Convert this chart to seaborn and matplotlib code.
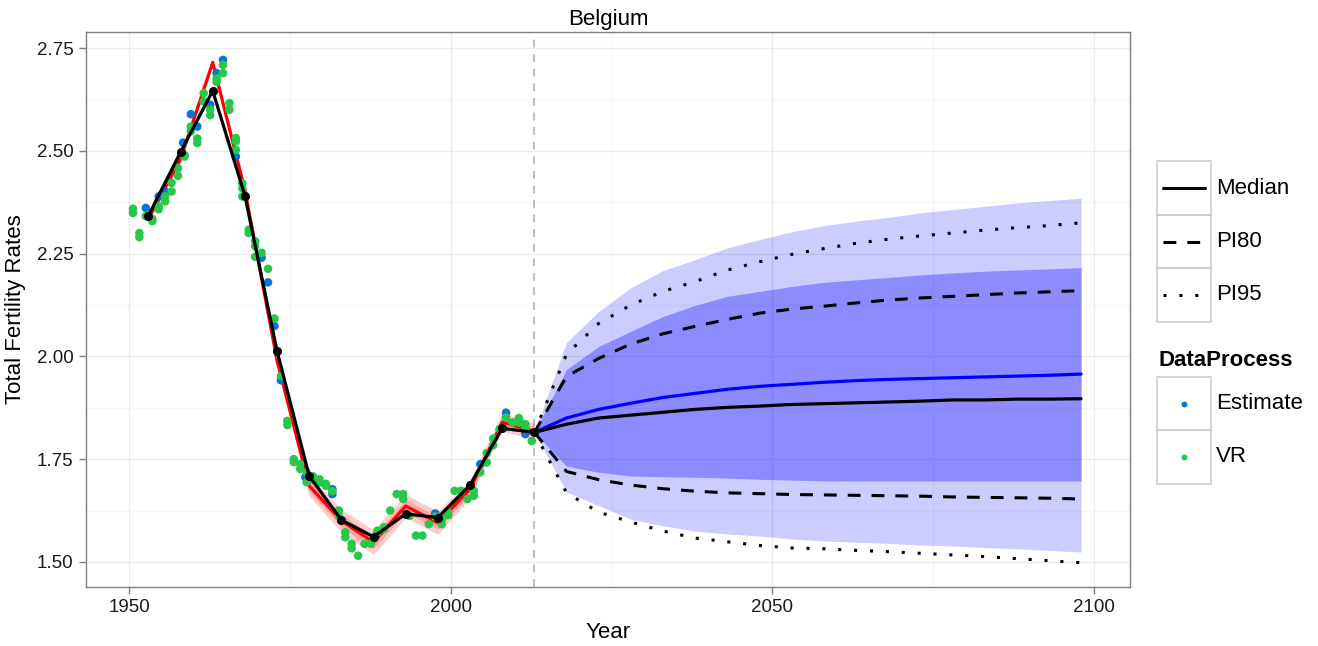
import numpy as np
import pandas as pd
import matplotlib
matplotlib.use("Agg")
import matplotlib.pyplot as plt
import seaborn as sns
from matplotlib.patches import Rectangle
from matplotlib.lines import Line2D

# ---------------- data ----------------
vr_years = [1950.6, 1950.6, 1951.6, 1951.6, 1952.6, 1953.6, 1953.6, 1954.6, 1954.6,
            1955.6, 1955.6, 1956.6, 1956.6, 1957.6, 1957.6, 1958.6, 1958.6, 1959.6, 1959.6,
            1960.6, 1960.6, 1961.6, 1961.6, 1962.6, 1962.6, 1963.6, 1963.6, 1964.6, 1964.6,
            1965.6, 1965.6, 1966.6, 1966.6, 1966.6, 1967.6, 1967.6, 1967.6, 1968.6, 1968.6,
            1969.6, 1969.6, 1969.6, 1970.6, 1971.6, 1972.6, 1973.6, 1974.6, 1974.6,
            1975.6, 1975.6, 1976.6, 1976.6, 1977.6, 1977.6, 1978.6, 1978.6, 1979.6, 1979.6,
            1980.6, 1980.6, 1981.6, 1982.6, 1982.6, 1983.6, 1983.6, 1984.6, 1984.6, 1985.6,
            1986.6, 1987.6, 1988.6, 1988.6, 1989.6, 1989.6, 1990.6, 1991.6, 1992.6, 1992.6,
            1993.6, 1994.6, 1995.6, 1996.6, 1997.6, 1998.6, 1998.6, 1999.6, 1999.6, 2000.6,
            2001.6, 2002.6, 2003.6, 2003.6, 2004.6, 2005.6, 2005.6, 2006.6, 2006.6, 2007.6,
            2008.6, 2009.6, 2010.6, 2010.6, 2011.6, 2011.6, 2012.6]
vr_values = [2.359, 2.349, 2.300, 2.290, 2.341, 2.329, 2.334, 2.365, 2.358,
             2.389, 2.377, 2.422, 2.401, 2.458, 2.439, 2.490, 2.486, 2.559, 2.547,
             2.530, 2.519, 2.640, 2.620, 2.600, 2.587, 2.676, 2.668, 2.709, 2.689,
             2.616, 2.600, 2.531, 2.523, 2.502, 2.421, 2.409, 2.389, 2.308, 2.300,
             2.280, 2.268, 2.242, 2.252, 2.213, 2.092, 1.952, 1.843, 1.833,
             1.750, 1.743, 1.738, 1.726, 1.718, 1.694, 1.708, 1.700, 1.701, 1.693,
             1.690, 1.685, 1.672, 1.625, 1.612, 1.572, 1.560, 1.544, 1.533, 1.515,
             1.544, 1.544, 1.572, 1.576, 1.584, 1.580, 1.625, 1.665, 1.665, 1.653,
             1.612, 1.564, 1.564, 1.592, 1.610, 1.592, 1.604, 1.621, 1.614, 1.673,
             1.673, 1.653, 1.673, 1.661, 1.718, 1.742, 1.765, 1.784, 1.800, 1.823,
             1.851, 1.839, 1.839, 1.850, 1.835, 1.825, 1.794]

est_years = [1952.6, 1954.6, 1955.6, 1958.4, 1959.6, 1960.6, 1962.6, 1963.6, 1964.6,
             1966.6, 1970.6, 1971.6, 1972.6, 1973.6, 1977.4, 1981.6, 1981.6, 1997.6,
             2004.6, 2008.6, 2010.6, 2011.6]
est_values = [2.361, 2.389, 2.401, 2.520, 2.589, 2.559, 2.612, 2.689, 2.721,
              2.486, 2.240, 2.180, 2.074, 1.942, 1.706, 1.677, 1.665, 1.618,
              1.738, 1.863, 1.846, 1.811]

# 5-year periods (observed part)
obs_years = [1953, 1958, 1963, 1968, 1973, 1978, 1983, 1988, 1993, 1998, 2003, 2008, 2013]
obs_median = [2.342, 2.497, 2.646, 2.391, 2.013, 1.709, 1.602, 1.561, 1.617, 1.608, 1.687, 1.825, 1.815]
est_tfr = [2.335, 2.480, 2.715, 2.405, 1.990, 1.685, 1.600, 1.548, 1.636, 1.595, 1.677, 1.840, 1.818]
est_half80 = [0.004, 0.004, 0.005, 0.005, 0.008, 0.013, 0.015, 0.016, 0.015, 0.015, 0.012, 0.012, 0.011]
est_half95 = [0.008, 0.008, 0.010, 0.010, 0.015, 0.025, 0.028, 0.030, 0.028, 0.028, 0.022, 0.022, 0.020]

# projections
proj_years = [2013, 2018, 2023, 2028, 2033, 2038, 2043, 2048, 2053, 2058, 2063, 2068,
              2073, 2078, 2083, 2088, 2093, 2098]
proj_median = [1.815, 1.835, 1.850, 1.857, 1.864, 1.871, 1.876, 1.879, 1.883, 1.885, 1.887,
               1.889, 1.891, 1.894, 1.894, 1.896, 1.896, 1.897]
proj_pi80_up = [1.815, 1.951, 1.995, 2.030, 2.055, 2.073, 2.090, 2.105, 2.115, 2.122, 2.130,
                2.137, 2.142, 2.146, 2.150, 2.154, 2.157, 2.160]
proj_pi80_lo = [1.815, 1.720, 1.700, 1.687, 1.678, 1.672, 1.668, 1.666, 1.664, 1.663, 1.662,
                1.661, 1.660, 1.658, 1.657, 1.656, 1.655, 1.653]
proj_pi95_up = [1.815, 2.005, 2.080, 2.125, 2.158, 2.182, 2.210, 2.230, 2.248, 2.262, 2.275,
                2.285, 2.293, 2.300, 2.307, 2.313, 2.318, 2.325]
proj_pi95_lo = [1.815, 1.668, 1.621, 1.597, 1.575, 1.558, 1.549, 1.540, 1.534, 1.532, 1.528,
                1.525, 1.521, 1.517, 1.513, 1.508, 1.503, 1.498]

alt_median = [1.815, 1.850, 1.871, 1.886, 1.900, 1.910, 1.920, 1.927, 1.932, 1.937, 1.941,
              1.944, 1.946, 1.948, 1.950, 1.952, 1.954, 1.957]
alt_80_up = [1.815, 1.968, 2.024, 2.061, 2.097, 2.124, 2.146, 2.158, 2.170, 2.180, 2.186,
             2.192, 2.198, 2.203, 2.207, 2.210, 2.213, 2.216]
alt_80_lo = [1.815, 1.733, 1.718, 1.709, 1.707, 1.706, 1.704, 1.701, 1.699, 1.697, 1.697,
             1.697, 1.697, 1.697, 1.697, 1.697, 1.697, 1.697]
alt_95_up = [1.815, 2.034, 2.109, 2.167, 2.209, 2.235, 2.264, 2.284, 2.303, 2.318, 2.329,
             2.338, 2.349, 2.357, 2.365, 2.373, 2.379, 2.385]
alt_95_lo = [1.815, 1.670, 1.637, 1.604, 1.588, 1.575, 1.568, 1.563, 1.556, 1.551, 1.548,
             1.545, 1.541, 1.539, 1.535, 1.532, 1.528, 1.524]

present_year = 2013
x_ticks = [1950, 2000, 2050, 2100]
y_ticks = [1.50, 1.75, 2.00, 2.25, 2.50, 2.75]
x_minor = [1975, 2025, 2075]
y_minor = [1.625, 1.875, 2.125, 2.375, 2.625]

# ---------------- style ----------------
sns.set_theme(style="white")
plt.rcParams['font.family'] = ['Liberation Sans', 'DejaVu Sans']

W, H = 1318, 646
fig = plt.figure(figsize=(W / 100, H / 100), dpi=100)
L, R, T, B = 86, 1130, 32, 587
ax = fig.add_axes([L / W, 1 - B / H, (R - L) / W, (B - T) / H])
ax.set_facecolor('white')

ax.set_xlim(1943.3, 2105.6)
ax.set_ylim(1.439, 2.789)

for v in x_minor:
    ax.axvline(v, color='#F7F7F7', lw=0.9, zorder=0)
for v in y_minor:
    ax.axhline(v, color='#F7F7F7', lw=0.9, zorder=0)
for v in x_ticks:
    ax.axvline(v, color='#EBEBEB', lw=1.0, zorder=0)
for v in y_ticks:
    ax.axhline(v, color='#EBEBEB', lw=1.0, zorder=0)

df_est = pd.DataFrame({'year': obs_years, 'tfr': est_tfr,
                       'lo80': np.array(est_tfr) - np.array(est_half80),
                       'up80': np.array(est_tfr) + np.array(est_half80),
                       'lo95': np.array(est_tfr) - np.array(est_half95),
                       'up95': np.array(est_tfr) + np.array(est_half95)})
df_proj = pd.DataFrame({'year': proj_years, 'median': proj_median,
                        'pi80_up': proj_pi80_up, 'pi80_lo': proj_pi80_lo,
                        'pi95_up': proj_pi95_up, 'pi95_lo': proj_pi95_lo,
                        'alt_median': alt_median, 'a80u': alt_80_up, 'a80l': alt_80_lo,
                        'a95u': alt_95_up, 'a95l': alt_95_lo})

# blue projection bands
ax.fill_between(df_proj['year'], df_proj['a95l'], df_proj['a95u'], color='#0000FF',
                alpha=0.2, lw=0, zorder=1)
ax.fill_between(df_proj['year'], df_proj['a80l'], df_proj['a80u'], color='#0000FF',
                alpha=0.314, lw=0, zorder=1.1)

# present-year line
ax.axvline(present_year, color='#BDBDBD', lw=1.4, ls=(0, (4, 3.5)), zorder=1.2)

# pink bands and red line
ax.fill_between(df_est['year'], df_est['lo95'], df_est['up95'], color='#FF0000',
                alpha=0.2, lw=0, zorder=1.3)
ax.fill_between(df_est['year'], df_est['lo80'], df_est['up80'], color='#FF0000',
                alpha=0.2, lw=0, zorder=1.4)
sns.lineplot(data=df_est, x='year', y='tfr', color='#FF0000', lw=2.3, ax=ax,
             zorder=2, legend=False)

# data points
pts = pd.DataFrame({'year': est_years + vr_years,
                    'tfr': est_values + vr_values,
                    'DataProcess': ['Estimate'] * len(est_years) + ['VR'] * len(vr_years)})
pal = {'Estimate': '#0B74DA', 'VR': '#27C84A'}
sns.scatterplot(data=pts, x='year', y='tfr', hue='DataProcess', palette=pal, s=38,
                linewidth=0, ax=ax, zorder=3, legend=False)

# projection lines
sns.lineplot(data=df_proj, x='year', y='alt_median', color='#0000FF', lw=2.3, ax=ax,
             zorder=4, legend=False)
for col in ['pi80_up', 'pi80_lo']:
    ax.plot(df_proj['year'], df_proj[col], color='black', lw=2.2,
            dashes=(4.2, 3.6), dash_capstyle='butt', zorder=4)
for col in ['pi95_up', 'pi95_lo']:
    ax.plot(df_proj['year'], df_proj[col], color='black', lw=2.2,
            dashes=(1, 4.2), dash_capstyle='butt', zorder=4)
sns.lineplot(data=df_proj, x='year', y='median', color='black', lw=2.3, ax=ax,
             zorder=4.5, legend=False)

# observed median with points
obs = pd.DataFrame({'year': obs_years, 'median': obs_median})
sns.lineplot(data=obs, x='year', y='median', color='black', lw=2.3, ax=ax,
             marker='o', markersize=6.5, markeredgewidth=0, zorder=5, legend=False)

# axes styling
ax.set_xticks(x_ticks)
ax.set_yticks(y_ticks)
ax.set_xticklabels([str(v) for v in x_ticks])
ax.set_yticklabels([f'{v:.2f}' for v in y_ticks])
ax.tick_params(axis='both', which='major', direction='out', length=5, width=1,
               color='#7F7F7F', labelsize=13.5, labelcolor='#1A1A1A', pad=4,
               bottom=True, left=True)
for sp in ax.spines.values():
    sp.set_color('#7F7F7F')
    sp.set_linewidth(1.0)
ax.set_xlabel('Year', fontsize=16, color='black', labelpad=4)
ax.set_ylabel('Total Fertility Rates', fontsize=16, color='black', labelpad=8)
ax.set_title('Belgium', fontsize=16, color='black', pad=5)

# ---------------- legend ----------------
lax = fig.add_axes([0, 0, 1, 1], facecolor='none')
lax.set_xlim(0, W)
lax.set_ylim(H, 0)
lax.axis('off')
box_ec = '#CCCCCC'
kx0, kx1 = 1157, 1211
boxes1 = [(161, 215), (215, 268), (268, 322)]
labels1 = ['Median', 'PI80', 'PI95']
styles1 = [dict(ls='-'), dict(dashes=(4.2, 3.6)), dict(dashes=(1, 4.2))]
for (y0, y1), lab, st in zip(boxes1, labels1, styles1):
    lax.add_patch(Rectangle((kx0, y0), kx1 - kx0, y1 - y0, fill=False, ec=box_ec, lw=1.2))
    yc = (y0 + y1) / 2
    lax.add_line(Line2D([1163, 1205], [yc, yc], color='black', lw=2.2,
                        dash_capstyle='butt', **st))
    lax.text(1216, yc, lab, fontsize=16, va='center', ha='left', color='black')

lax.text(1158, 361, 'DataProcess', fontsize=16, fontweight='bold', va='center',
         ha='left', color='black')
boxes2 = [(377, 430), (430, 484)]
labels2 = ['Estimate', 'VR']
for (y0, y1), lab in zip(boxes2, labels2):
    lax.add_patch(Rectangle((kx0, y0), kx1 - kx0, y1 - y0, fill=False, ec=box_ec, lw=1.2))
    yc = (y0 + y1) / 2
    lax.scatter([1184], [yc], s=18, color=pal[lab], linewidth=0)
    lax.text(1216, yc, lab, fontsize=16, va='center', ha='left', color='black')

fig.savefig('out.png', dpi=100)
